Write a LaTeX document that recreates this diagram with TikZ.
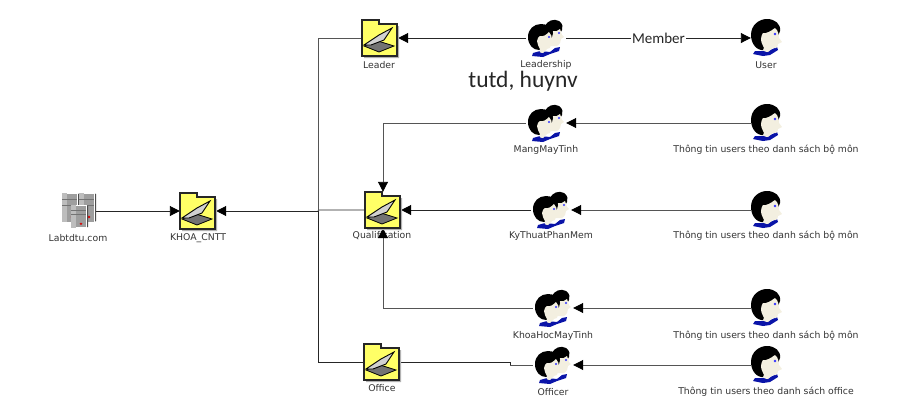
\documentclass[tikz,border=0pt]{standalone}
\usepackage{fontspec}
\setmainfont{DejaVu Sans}
\newfontfamily\bigfont{Carlito}
\usetikzlibrary{arrows.meta}
\definecolor{folderyellow}{HTML}{FFFF66}
\definecolor{linegrey}{HTML}{555555}
\definecolor{facecream}{HTML}{F3EFE0}
\definecolor{collarblue}{HTML}{0A14A8}
\tikzset{
  x=1pt,y=-1pt,
  iconbox/.style={inner sep=0pt,minimum width=#1,minimum height=#1,draw=none},
  lab/.style={font=\fontsize{9.3}{11}\selectfont,text=black!80,inner sep=0pt},
  conn/.style={draw=black!85,line width=0.9pt},
  connG/.style={draw=linegrey,line width=0.9pt},
  tip/.style={-{Triangle[length=10pt,width=10pt,color=black]}},
  folder/.pic={
    \fill[black!30] (-16,-16) -- (0,-16) -- (0,-12) -- (19,-12) -- (19,20) -- (-16,20) -- cycle;
    \draw[fill=folderyellow,line width=1.5pt,draw=black!85] (-18,-18) -- (-1,-18) -- (-1,-14) -- (17,-14) -- (17,18) -- (-18,18) -- cycle;
    \draw[black,line width=0.8pt,fill=black!55] (-16,8) -- (-2,3) -- (14,8) -- (-1,14) -- cycle;
    \draw[black,line width=0.9pt,fill=black!18] (-16,7) -- (-1,-3) -- (12,-10) -- (4,2) -- (-9,7) -- cycle;
  },
  person/.pic={
    \fill[collarblue] (-11,13) -- (2,13) -- (11,9) -- (12,12) -- (4,17) -- (-3,18) -- (-13,16) -- cycle;
    \fill[black] (-15,-3) .. controls (-15,-13) and (-7,-19) .. (1,-19) .. controls (9,-19) and (15,-14) .. (14,-7) -- (8,8) -- (-2,12) .. controls (-9,13) and (-15,6) .. (-15,-3) -- cycle;
    \fill[facecream] (-3,-5) .. controls (0,-4) and (5,-7) .. (9,-10) .. controls (12,-8) and (13,-3) .. (13,0) -- (16,4) -- (12,6) .. controls (12,9) and (10,11) .. (7,10) -- (2,14) .. controls (-2,14) and (-4,12) .. (-2,10) .. controls (-3,7) and (-5,5) .. (-5,1) .. controls (-5,-2) and (-4,-3) .. (-3,-5) -- cycle;
    \fill[blue!80] (9,-4) circle (1.3);
  },
  people/.pic={
    \fill[collarblue] (-13,15) -- (-6,13) -- (4,14) -- (9,10) -- (14,9) -- (13,13) -- (4,16) -- (-3,19) -- (-14,18) -- cycle;
    \fill[black] (-1,-12) .. controls (1,-17) and (8,-20) .. (13,-17) .. controls (17,-14) and (17,-11) .. (16,-8) -- (10,2) -- (0,0) -- cycle;
    \fill[facecream] (7,-7) .. controls (9,-6) and (12,-7) .. (14,-9) -- (16,-3) -- (18,-1) -- (15,1) .. controls (15,4) and (14,6) .. (11,8) -- (5,8) -- cycle;
    \fill[black] (-18,-1) .. controls (-18,-9) and (-12,-14) .. (-5,-14) .. controls (1,-14) and (6,-11) .. (7,-5) -- (2,8) -- (-7,12) .. controls (-13,12) and (-18,7) .. (-18,-1) -- cycle;
    \fill[facecream] (-6,-2) .. controls (-3,-1) and (0,-3) .. (3,-6) .. controls (5,-4) and (6,-1) .. (6,1) -- (8,5) -- (5,6) .. controls (5,10) and (3,11) .. (1,11) -- (-3,15) .. controls (-7,15) and (-7,13) .. (-6,11) .. controls (-7,9) and (-9,6) .. (-9,3) .. controls (-9,0) and (-7,-1) .. (-6,-2) -- cycle;
    \fill[blue!80] (3,-1) circle (1.2);
    \fill[blue!80] (13,-5) circle (1.1);
  },
  tower/.pic={
    \fill[black!70] (7,-14) -- (9,-13) -- (9,14) -- (7,15) -- cycle;
    \draw[white,line width=0.5pt,fill=black!38] (-8,-14) -- (7,-14) -- (7,15) -- (-8,15) -- cycle;
    \fill[black!26] (-8,-14) rectangle (-3,15);
    \draw[black!55,line width=0.4pt] (-8,-8) -- (7,-8) (-8,-2) -- (7,-2);
    \fill[red!85!black] (2,10) circle (1.4);
  },
  servers/.pic={
    \pic at (-9,-3) {tower};
    \pic at (8,-3) {tower};
    \pic at (0,6) [yscale=0.78] {tower};
  },
}
\begin{document}
\begin{tikzpicture}
\useasboundingbox (0,0) rectangle (898,410);
% icon anchors
\node[iconbox=34pt] (server) at (79,210) {};
\node[iconbox=36pt] (khoa) at (198,211) {};
\node[iconbox=36pt] (leader) at (380,38) {};
\node[iconbox=36pt] (qual) at (383,210) {};
\node[iconbox=36pt] (office) at (382,362) {};
\node[iconbox=40pt] (leadership) at (546,38) {};
\node[iconbox=40pt] (mang) at (546,123) {};
\node[iconbox=40pt] (ky) at (551,210) {};
\node[iconbox=40pt] (khoahoc) at (553,308) {};
\node[iconbox=40pt] (officer) at (553,365) {};
\node[iconbox=30pt] (user) at (766,38) {};
\node[iconbox=30pt] (u1) at (766,123) {};
\node[iconbox=30pt] (u2) at (766,210) {};
\node[iconbox=30pt] (u3) at (766,308) {};
\node[iconbox=30pt] (u4) at (766,365) {};
% labels
\node[lab] (l0) at (78,238) {Labtdtu.com};
\node[lab] (l1) at (198,238) {KHOA\_CNTT};
\node[lab] (l2) at (379,65) {Leader};
\node[lab] (l3) at (382,236) {Qualification};
\node[lab] (l4) at (382,388) {Office};
\node[lab] (l5) at (546,65) {Leadership};
\node[lab] (l6) at (546,150) {MangMayTinh};
\node[lab] (l7) at (551,236) {KyThuatPhanMem};
\node[lab] (l8) at (553,336) {KhoaHocMayTinh};
\node[lab] (l9) at (553,392) {Officer};
\node[lab] (l10) at (766,65) {User};
\node[lab] (l11) at (766,150) {Thông tin users theo danh sách bộ môn};
\node[lab] (l12) at (766,236) {Thông tin users theo danh sách bộ môn};
\node[lab] (l13) at (766,336) {Thông tin users theo danh sách bộ môn};
\node[lab] (l14) at (766,392) {Thông tin users theo danh sách office};
\node[font=\bigfont\fontsize{23.5}{25}\selectfont,text=black!85,inner sep=0pt] (names) at (523,81) {tutd, huynv};
% connectors
\coordinate (trunk) at (318,211);
\coordinate (qualj) at (319,210);
\coordinate (mangbend) at (qual.north |- mang.west);
\coordinate (khoabend) at (qual.south |- khoahoc.west);
\coordinate (offbendA) at (510,362);
\coordinate (offbendB) at (510,365);
\draw[conn,tip] (server.east |- khoa.west) -- (khoa.west);
\draw[conn,tip] (trunk) -- (khoa.east);
\draw[conn] (qual.west) -- (qualj) -- (trunk);
\draw[connG] (leader.west) -- (leader.west -| trunk) -- (trunk);
\draw[conn] (trunk) -- (office.west -| trunk) -- (office.west);
\draw[conn,tip] (leadership.west) -- (leader.east);
\draw[conn,tip] (leadership.east) -- node[fill=white,inner sep=1pt,font=\bigfont\fontsize{15}{17}\selectfont,text=black!85] (member) {Member} (user.west);
\draw[connG] (mang.west) -- (mangbend);
\draw[connG,tip] (mangbend) -- (qual.north);
\draw[connG] (khoahoc.west) -- (khoabend);
\draw[connG,tip] (khoabend) -- (qual.south);
\draw[conn,tip] (ky.west) -- (qual.east);
\draw[conn] (office.east) -- (offbendA) -- (offbendB);
\draw[connG] (offbendB) -- (officer.west);
\draw[connG,tip] (u1.west) -- (mang.east);
\draw[connG,tip] (u2.west) -- (ky.east);
\draw[connG,tip] (u3.west) -- (khoahoc.east);
\draw[connG,tip] (u4.west) -- (officer.east);
% icons
\pic at (server) {servers};
\pic at (khoa) {folder};
\pic at (leader) {folder};
\pic at (qual) {folder};
\pic at (office) {folder};
\pic at (leadership) {people};
\pic at (mang) {people};
\pic at (ky) {people};
\pic at (khoahoc) {people};
\pic at (officer) {people};
\pic at (user) {person};
\pic at (u1) {person};
\pic at (u2) {person};
\pic at (u3) {person};
\pic at (u4) {person};
\end{tikzpicture}
\end{document}
